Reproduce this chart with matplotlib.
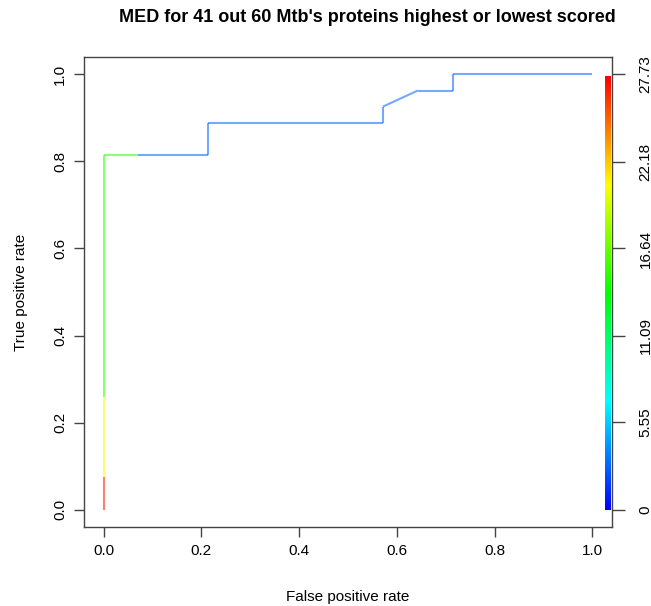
import numpy as np
import matplotlib
matplotlib.use("Agg")
import matplotlib.pyplot as plt
from matplotlib.collections import LineCollection
from matplotlib.colors import ListedColormap, Normalize, hsv_to_rgb

plt.rcParams['font.family'] = ['Liberation Sans', 'DejaVu Sans']

title = "MED for 41 out 60 Mtb's proteins highest or lowest scored"
fpr = [0.0, 0.0, 0.0, 0.0, 0.0714, 0.2143, 0.2143, 0.5714, 0.5714, 0.6429, 0.7143, 0.7143, 1.0]
tpr = [0.0, 0.074, 0.259, 0.815, 0.815, 0.815, 0.889, 0.889, 0.926, 0.963, 0.963, 1.0, 1.0]
seg_cutoff = [27.0, 21.0, 15.0, 15.0, 2.8, 2.8, 2.8, 2.8, 2.8, 2.8, 2.8, 2.8]
cut_min, cut_max = 0.0, 27.73
cbar_ticks = [0, 5.55, 11.09, 16.64, 22.18, 27.73]
axis_ticks = [0.0, 0.2, 0.4, 0.6, 0.8, 1.0]

# rainbow (blue -> red) like R rev(rainbow(256, start=0, end=4/6))
hues = np.linspace(4/6, 0, 256)
rgb = hsv_to_rgb(np.stack([hues, np.ones_like(hues), np.ones_like(hues)], axis=1))
cmap = ListedColormap(rgb)
norm = Normalize(cut_min, cut_max)

W, H = 651, 606
fig = plt.figure(figsize=(W/100, H/100), dpi=100)
ax = fig.add_axes([84/W, (H-527)/H, (612-84)/W, (527-57)/H])

pts = np.column_stack([fpr, tpr])
segs = np.stack([pts[:-1], pts[1:]], axis=1)
lc = LineCollection(segs, colors=cmap(norm(np.array(seg_cutoff))), linewidths=1.5, alpha=0.55)
ax.add_collection(lc)

# colorbar drawn inside the plotting region at right edge
grad = np.linspace(cut_min, cut_max, 256).reshape(-1, 1)
ax.imshow(grad, cmap=cmap, norm=norm, origin='lower', aspect='auto',
          extent=[1.026, 1.038, 0.0, 0.995], interpolation='bilinear', zorder=3)

ax.set_xlim(-0.04, 1.04)
ax.set_ylim(-0.04, 1.04)
ax.set_xticks(axis_ticks)
ax.set_yticks(axis_ticks)
ax.set_xticklabels([f"{t:.1f}" for t in axis_ticks], fontsize=11)
ax.set_yticklabels([f"{t:.1f}" for t in axis_ticks], fontsize=11, rotation=90, va='center')
ax.tick_params(length=7, width=1, color='#444444', pad=5)
for s in ax.spines.values():
    s.set_color('#444444')
    s.set_linewidth(1.0)

ax2 = ax.twinx()
ax2.set_ylim(np.array(ax.get_ylim()) * cut_max)
ax2.set_yticks(np.array(cbar_ticks))
ax2.set_yticklabels([f"{t:g}" for t in cbar_ticks], fontsize=11, rotation=90, va='center')
ax2.tick_params(length=9, width=1, color='#444444', pad=10)
for s in ax2.spines.values():
    s.set_visible(False)

ax.set_xlabel("False positive rate", fontsize=11, labelpad=23)
ax.set_ylabel("True positive rate", fontsize=11, labelpad=18)
fig.text(367/W, 1 - 18/H, title, ha='center', va='center', fontsize=13, fontweight='bold')

fig.savefig("out.png", dpi=100)
